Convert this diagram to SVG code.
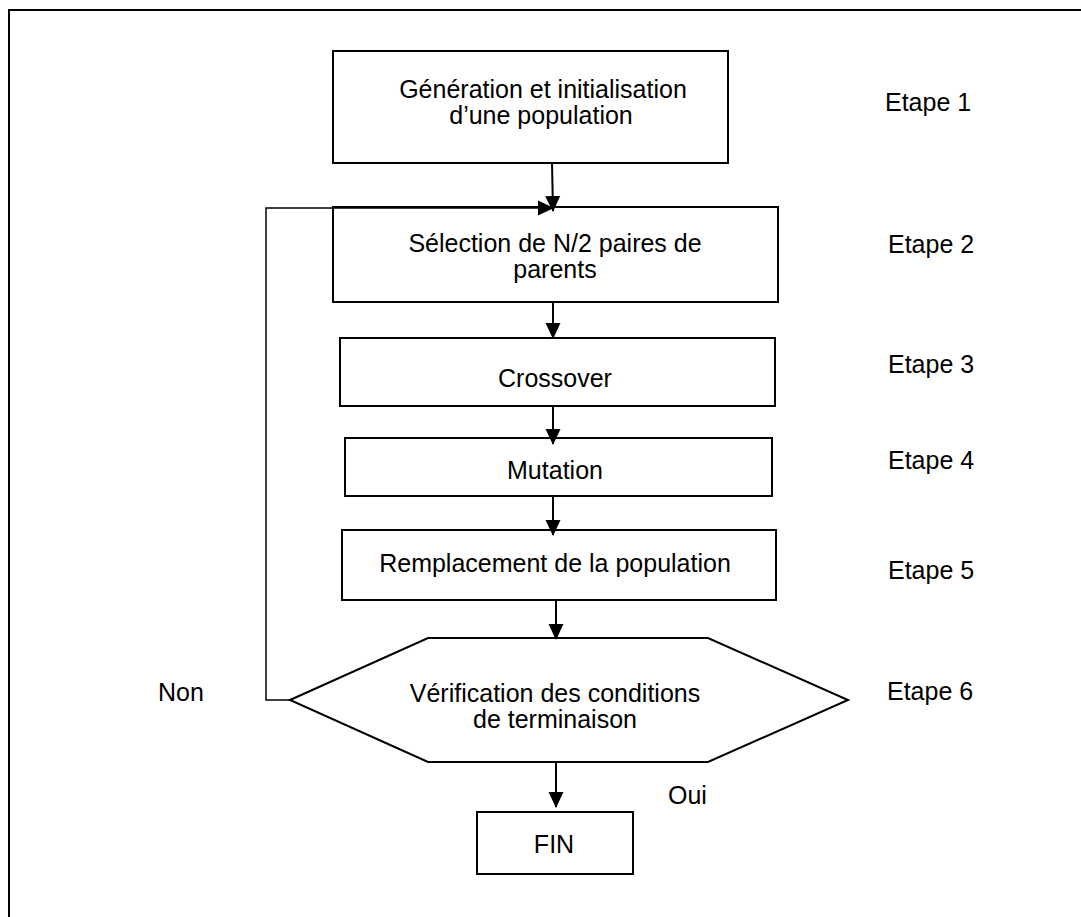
<svg xmlns="http://www.w3.org/2000/svg" width="1081" height="917" viewBox="0 0 1081 917">
  <style>
    .box { fill: #fff; stroke: #000; stroke-width: 2; }
    .frame { fill: none; stroke: #000; stroke-width: 2; }
    .line { fill: none; stroke: #000; stroke-width: 2; }
    .thin { fill: none; stroke: #000; stroke-width: 1.5; }
    text { font-family: "Liberation Sans", Arial, sans-serif; font-size: 25px; fill: #000; }
    .c { text-anchor: middle; }
  </style>
  <defs>
    <marker id="arrowL" markerWidth="16" markerHeight="16" refX="15" refY="8" orient="auto" markerUnits="userSpaceOnUse" viewBox="0 0 16 16">
      <path d="M0,0.5 L16,8 L0,15.5 Z" fill="#000"/>
    </marker>
  </defs>

  <rect width="1081" height="917" fill="#fff"/>
  <!-- outer frame (open on right and bottom) -->
  <path class="frame" d="M9,917 L9,10 L1081,10"/>

  <g id="node-init">
    <rect class="box" x="333" y="51" width="395" height="112"/>
    <text class="c" x="543" y="98">Génération et initialisation</text>
    <text class="c" x="541" y="124">d’une population</text>
  </g>
  <g id="node-selection">
    <rect class="box" x="333" y="207" width="445" height="95"/>
    <text class="c" x="555" y="252">Sélection de N/2 paires de</text>
    <text class="c" x="555" y="278">parents</text>
  </g>
  <g id="node-crossover">
    <rect class="box" x="340" y="338" width="435" height="68"/>
    <text class="c" x="555" y="387">Crossover</text>
  </g>
  <g id="node-mutation">
    <rect class="box" x="345" y="438" width="427" height="58"/>
    <text class="c" x="555" y="479">Mutation</text>
  </g>
  <g id="node-replacement">
    <rect class="box" x="342" y="530" width="434" height="70"/>
    <text class="c" x="555" y="572">Remplacement de la population</text>
  </g>
  <g id="node-check">
    <polygon class="box" points="290,700 428,638 708,638 848,700 708,762 428,762"/>
    <text class="c" x="555" y="702">Vérification des conditions</text>
    <text class="c" x="555" y="728">de terminaison</text>
  </g>
  <g id="node-end">
    <rect class="box" x="477" y="812" width="156" height="62"/>
    <text class="c" x="554" y="853">FIN</text>
  </g>

  <g id="step-labels">
    <text x="885" y="111">Etape 1</text>
    <text x="888" y="253">Etape 2</text>
    <text x="888" y="373">Etape 3</text>
    <text x="888" y="469">Etape 4</text>
    <text x="888" y="579">Etape 5</text>
    <text x="887" y="700">Etape 6</text>
    <text x="158" y="701">Non</text>
    <text x="668" y="804">Oui</text>
  </g>

  <g id="connectors">
    <line class="line" x1="552" y1="163" x2="553" y2="211" marker-end="url(#arrowL)"/>
    <line class="line" x1="553" y1="302" x2="553" y2="338" marker-end="url(#arrowL)"/>
    <line class="line" x1="553" y1="406" x2="553" y2="444" marker-end="url(#arrowL)"/>
    <line class="line" x1="553" y1="496" x2="553" y2="535" marker-end="url(#arrowL)"/>
    <line class="line" x1="556" y1="600" x2="556" y2="639" marker-end="url(#arrowL)"/>
    <line class="line" x1="556" y1="762" x2="556" y2="807" marker-end="url(#arrowL)"/>
    <!-- loop back from the check to the selection step -->
    <polyline class="thin" points="290,700 266,700 266,208 553,208" marker-end="url(#arrowL)"/>
  </g>
</svg>
